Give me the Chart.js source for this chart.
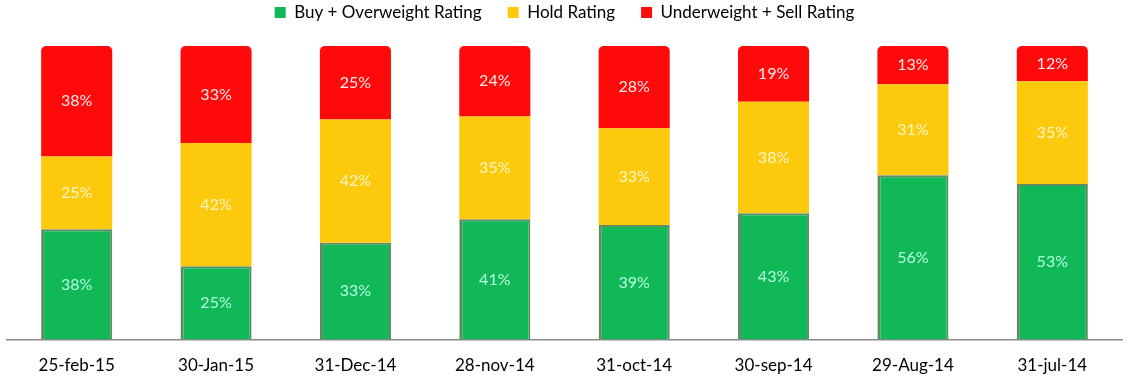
<!DOCTYPE html>
<html>
<head>
<meta charset="utf-8">
<script src="https://cdn.jsdelivr.net/npm/chart.js@4.4.1/dist/chart.umd.min.js"></script>
<style>
  html, body { margin: 0; padding: 0; background: #fff; }
  #wrap { width: 1137px; height: 382px; }
</style>
</head>
<body>
<div id="wrap"><canvas id="grafRatings" width="1137" height="382"></canvas></div>
<script>
// fechas y porcentajes
const fechas = ['25-feb-15', '30-Jan-15', '31-Dec-14', '28-nov-14', '31-oct-14', '30-sep-14', '29-Aug-14', '31-jul-14'];
const buyOver = [38, 25, 33, 41, 39, 43, 56, 53];
const hold = [25, 42, 42, 35, 33, 38, 31, 35];
const underSell = [38, 33, 25, 24, 28, 19, 13, 12];

// cada barra llena el 100% (las etiquetas redondeadas a veces suman 101)
const totales = fechas.map((f, i) => buyOver[i] + hold[i] + underSell[i]);
const norm = arr => arr.map((v, i) => v / totales[i] * 100);

const fuente = "Lato, 'Open Sans', sans-serif";

const etiquetas = {
  id: 'etiquetas',
  afterDatasetsDraw(chart) {
    const ctx = chart.ctx;
    ctx.save();
    ctx.font = '16px ' + fuente;
    ctx.textAlign = 'center';
    ctx.textBaseline = 'middle';
    chart.data.datasets.forEach((ds, di) => {
      const meta = chart.getDatasetMeta(di);
      meta.data.forEach((bar, i) => {
        const mid = (bar.y + bar.base) / 2;
        ctx.fillStyle = ds.labelColor;
        ctx.fillText(ds.raw[i] + '%', bar.x, mid);
      });
    });
    ctx.restore();
  }
};

// leyenda mas baja de lo que da el padding (el padding tambien separa los items)
const leyendaAlto = {
  id: 'leyendaAlto',
  beforeInit(chart) {
    const fitOrig = chart.legend.fit;
    chart.legend.fit = function () {
      fitOrig.call(this);
      this.height = 68;
    };
  }
};

new Chart(document.getElementById('grafRatings'), {
  type: 'bar',
  data: {
    labels: fechas,
    datasets: [
      { label: 'Buy + Overweight Rating', data: norm(buyOver), raw: buyOver,
        backgroundColor: '#10b858', labelColor: '#b4ffe0',
        borderColor: '#5f8a62', borderWidth: { left: 3, right: 2, top: 2, bottom: 0 } },
      { label: 'Hold Rating', data: norm(hold), raw: hold,
        backgroundColor: '#fdc90c', labelColor: '#fff6c8' },
      { label: 'Underweight + Sell Rating', data: norm(underSell), raw: underSell,
        backgroundColor: '#ff0a0a', labelColor: '#ffeaea',
        borderRadius: { topLeft: 5, topRight: 5 }, borderSkipped: false }
    ]
  },
  options: {
    responsive: false,
    animation: false,
    layout: { padding: { left: 7, right: 15, top: -22, bottom: -2 } },
    datasets: { bar: { categoryPercentage: 1, barPercentage: 0.51 } },
    plugins: {
      legend: {
        position: 'top',
        labels: {
          boxWidth: 11, boxHeight: 11, padding: 26,
          color: '#000',
          generateLabels(chart) {
            const items = Chart.defaults.plugins.legend.labels.generateLabels(chart);
            items.forEach(it => { it.lineWidth = 0; });
            return items;
          },
          font: { family: fuente, size: 17 }
        }
      },
      tooltip: { enabled: false }
    },
    scales: {
      x: {
        stacked: true,
        grid: { display: false },
        border: { color: '#8a8a8a', width: 1.5 },
        ticks: { color: '#000', font: { family: fuente, size: 17 }, padding: 8 }
      },
      y: {
        stacked: true,
        display: false,
        min: 0, max: 100
      }
    }
  },
  plugins: [etiquetas, leyendaAlto]
});
</script>
</body>
</html>
